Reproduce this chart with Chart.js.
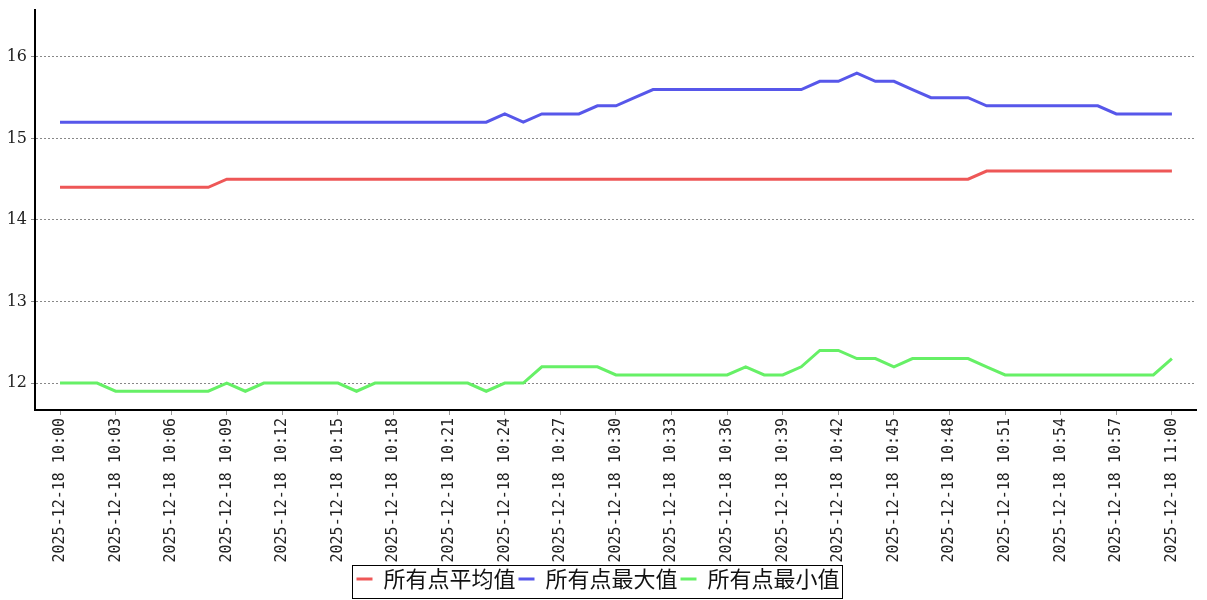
<!DOCTYPE html>
<html>
<head>
<meta charset="utf-8">
<script src="https://cdn.jsdelivr.net/npm/chart.js@4/dist/chart.umd.min.js"></script>
<style>
  html, body { margin: 0; padding: 0; background: #fff; }
  #wrap { width: 1207px; height: 600px; }
</style>
</head>
<body>
<div id="wrap"><canvas id="grafico"></canvas></div>
<script>
// tick labels, one every 3 minutes (minute offset = index * 3)
var etiquetas = [
  '2025-12-18 10:00', '2025-12-18 10:03', '2025-12-18 10:06', '2025-12-18 10:09',
  '2025-12-18 10:12', '2025-12-18 10:15', '2025-12-18 10:18', '2025-12-18 10:21',
  '2025-12-18 10:24', '2025-12-18 10:27', '2025-12-18 10:30', '2025-12-18 10:33',
  '2025-12-18 10:36', '2025-12-18 10:39', '2025-12-18 10:42', '2025-12-18 10:45',
  '2025-12-18 10:48', '2025-12-18 10:51', '2025-12-18 10:54', '2025-12-18 10:57',
  '2025-12-18 11:00'
]

var nombres = ['所有点平均值', '所有点最大值', '所有点最小值']
var colores = ['#ee5757', '#5757ea', '#66f066']

// one value per minute, 10:00 .. 11:00
var promedio = [
  14.4, 14.4, 14.4, 14.4, 14.4, 14.4, 14.4, 14.4, 14.4, 14.5,
  14.5, 14.5, 14.5, 14.5, 14.5, 14.5, 14.5, 14.5, 14.5, 14.5,
  14.5, 14.5, 14.5, 14.5, 14.5, 14.5, 14.5, 14.5, 14.5, 14.5,
  14.5, 14.5, 14.5, 14.5, 14.5, 14.5, 14.5, 14.5, 14.5, 14.5,
  14.5, 14.5, 14.5, 14.5, 14.5, 14.5, 14.5, 14.5, 14.5, 14.5,
  14.6, 14.6, 14.6, 14.6, 14.6, 14.6, 14.6, 14.6, 14.6, 14.6,
  14.6
]

var maximo = [
  15.2, 15.2, 15.2, 15.2, 15.2, 15.2, 15.2, 15.2, 15.2, 15.2,
  15.2, 15.2, 15.2, 15.2, 15.2, 15.2, 15.2, 15.2, 15.2, 15.2,
  15.2, 15.2, 15.2, 15.2, 15.3, 15.2, 15.3, 15.3, 15.3, 15.4,
  15.4, 15.5, 15.6, 15.6, 15.6, 15.6, 15.6, 15.6, 15.6, 15.6,
  15.6, 15.7, 15.7, 15.8, 15.7, 15.7, 15.6, 15.5, 15.5, 15.5,
  15.4, 15.4, 15.4, 15.4, 15.4, 15.4, 15.4, 15.3, 15.3, 15.3,
  15.3
]

var minimo = [
  12.0, 12.0, 12.0, 11.9, 11.9, 11.9, 11.9, 11.9, 11.9, 12.0,
  11.9, 12.0, 12.0, 12.0, 12.0, 12.0, 11.9, 12.0, 12.0, 12.0,
  12.0, 12.0, 12.0, 11.9, 12.0, 12.0, 12.2, 12.2, 12.2, 12.2,
  12.1, 12.1, 12.1, 12.1, 12.1, 12.1, 12.1, 12.2, 12.1, 12.1,
  12.2, 12.4, 12.4, 12.3, 12.3, 12.2, 12.3, 12.3, 12.3, 12.3,
  12.2, 12.1, 12.1, 12.1, 12.1, 12.1, 12.1, 12.1, 12.1, 12.1,
  12.3
]

function puntos(serie){
  return serie.map(function(v, i){ return {x: i, y: v} })
}

// black frame around the legend items
var marcoLeyenda = {
  id: 'marcoLeyenda',
  afterDraw: function(chart){
    var ley = chart.legend
    if (!ley || !ley.legendHitBoxes.length) return
    var cajas = ley.legendHitBoxes
    var izq = cajas[0].left - 4
    var der = cajas[cajas.length - 1].left + cajas[cajas.length - 1].width + 3
    var ctx = chart.ctx
    ctx.save()
    ctx.strokeStyle = '#000'
    ctx.lineWidth = 1
    ctx.strokeRect(Math.round(izq) + 0.5, ley.top + 0.5, Math.round(der - izq), ley.height - 2)
    ctx.restore()
  }
}

var ctx = document.getElementById('grafico').getContext('2d')
window.grafico = new Chart(ctx, {
  type: 'line',
  data: {
    datasets: [promedio, maximo, minimo].map(function(serie, k){
      return {
        label: nombres[k],
        data: puntos(serie),
        borderColor: colores[k],
        backgroundColor: colores[k],
        borderWidth: 3,
        pointRadius: 0,
        tension: 0
      }
    })
  },
  options: {
    responsive: true,
    maintainAspectRatio: false,
    animation: false,
    layout: { padding: { top: 10, right: 11, left: 0, bottom: 0 } },
    plugins: {
      tooltip: { enabled: false },
      legend: {
        position: 'bottom',
        labels: {
          usePointStyle: true,
          pointStyle: 'line',
          pointStyleWidth: 16,
          boxWidth: 16,
          boxHeight: 3,
          padding: 3,
          color: '#111',
          font: { family: '"Noto Sans CJK SC", sans-serif', size: 22 }
        }
      }
    },
    scales: {
      x: {
        type: 'linear',
        min: -1.35,
        max: 61.3,
        afterBuildTicks: function(escala){
          escala.ticks = etiquetas.map(function(t, i){ return {value: i * 3} })
        },
        afterFit: function(escala){
          escala.height = 155
          escala.paddingLeft = 0
          escala.paddingRight = 0
        },
        ticks: {
          autoSkip: false,
          minRotation: 90,
          maxRotation: 90,
          padding: 3,
          color: '#222',
          font: { family: '"DejaVu Sans Mono", monospace', size: 15 },
          callback: function(v){ return etiquetas[Math.round(v / 3)] }
        },
        grid: {
          drawOnChartArea: false,
          drawTicks: true,
          tickLength: 5,
          color: '#999'
        },
        border: { display: true, color: '#000', width: 2 }
      },
      y: {
        min: 11.67,
        max: 16.575,
        afterBuildTicks: function(escala){
          escala.ticks = [12, 13, 14, 15, 16].map(function(v){ return {value: v} })
        },
        afterFit: function(escala){
          escala.width = 35
          escala.paddingTop = 0
          escala.paddingBottom = 0
        },
        ticks: {
          padding: 4,
          color: '#222',
          font: { family: '"DejaVu Serif", serif', size: 16 }
        },
        grid: {
          color: '#888',
          lineWidth: 1,
          tickLength: 4
        },
        border: { display: true, color: '#000', width: 2, dash: [2, 2] }
      }
    }
  },
  plugins: [marcoLeyenda]
})
</script>
</body>
</html>
